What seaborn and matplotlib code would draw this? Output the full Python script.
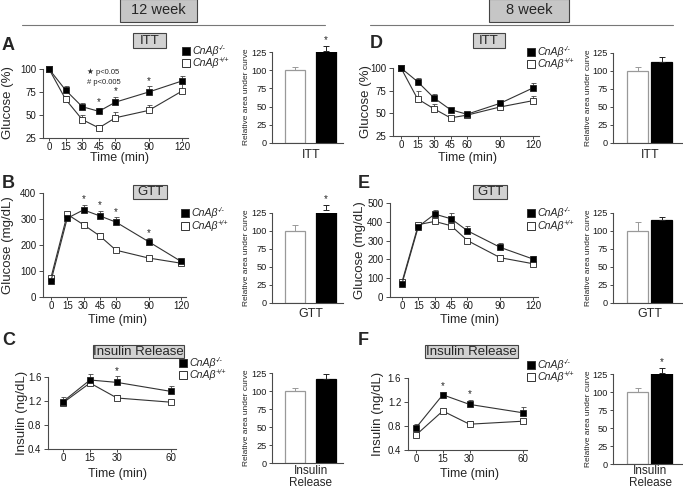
import numpy as np
import pandas as pd
import matplotlib
matplotlib.use("Agg")
import matplotlib.pyplot as plt
import seaborn as sns
from matplotlib.patches import Rectangle
from matplotlib.lines import Line2D
from matplotlib.text import Annotation

sns.set_style("ticks")
plt.rcParams["font.family"] = ["Liberation Sans", "DejaVu Sans"]

W, H = 683, 490

# ---------------- data ----------------
gtt_time = [0, 15, 30, 45, 60, 90, 120]
ins_time = [0, 15, 30, 60]
bar_groups = ["WT", "KO"]
gene_name = "CnAβ"
ko_sup = "-/-"
wt_sup = "+/+"

a_ko = [100, 77, 59, 54, 64, 75, 87]
a_ko_err = [0, 4, 4, 4, 6, 6, 5]
a_wt = [100, 67, 45, 36, 47, 55, 76]
a_wt_err = [0, 4, 5, 3, 6, 6, 8]
a_stars = [45, 60, 90]
a_auc = [100, 127]
a_auc_err = [5, 6]

b_ko = [62, 303, 335, 312, 288, 213, 137]
b_ko_err = [0, 8, 20, 20, 18, 13, 8]
b_wt = [75, 318, 278, 235, 180, 150, 130]
b_wt_err = [0, 8, 12, 10, 5, 6, 4]
b_stars = [30, 45, 60, 90]
b_auc = [100, 129]
b_auc_err = [9, 7]

c_ko = [1.19, 1.55, 1.51, 1.36]
c_ko_err = [0.08, 0.10, 0.10, 0.09]
c_wt = [1.17, 1.50, 1.25, 1.18]
c_wt_err = [0.04, 0.04, 0.05, 0.04]
c_stars = [30]
c_auc = [100, 116]
c_auc_err = [4, 7]

d_ko = [100, 85, 67, 54, 49, 61, 78]
d_ko_err = [0, 4, 4, 2, 2, 3, 6]
d_wt = [100, 66, 55, 45, 48, 57, 64]
d_wt_err = [0, 9, 5, 2, 2, 2, 5]
d_stars = []
d_auc = [100, 112]
d_auc_err = [5, 8]

e_ko = [71, 375, 441, 416, 352, 264, 202]
e_ko_err = [0, 20, 20, 30, 25, 25, 18]
e_wt = [80, 385, 402, 379, 300, 209, 177]
e_wt_err = [8, 10, 10, 10, 15, 12, 5]
e_stars = []
e_auc = [100, 115]
e_auc_err = [12, 5]

f_ko = [0.77, 1.32, 1.16, 1.02]
f_ko_err = [0.07, 0.05, 0.08, 0.10]
f_wt = [0.65, 1.05, 0.83, 0.88]
f_wt_err = [0.04, 0.04, 0.05, 0.04]
f_stars = [15, 30]
f_auc = [100, 127]
f_auc_err = [6, 6]

SP = "#4a4a4a"

fig = plt.figure(figsize=(W / 100, H / 100), dpi=100)


def px_axes(xmap, xlim, ymap, ylim):
    (xp0, xv0), (xp1, xv1) = xmap
    (yp0, yv0), (yp1, yv1) = ymap
    sx = (xp1 - xp0) / (xv1 - xv0)
    sy = (yp1 - yp0) / (yv1 - yv0)
    left = xp0 + (xlim[0] - xv0) * sx
    right = xp0 + (xlim[1] - xv0) * sx
    bottom = yp0 + (ylim[0] - yv0) * sy
    top = yp0 + (ylim[1] - yv0) * sy
    ax = fig.add_axes([left / W, 1 - bottom / H, (right - left) / W, (bottom - top) / H])
    ax.patch.set_alpha(0)
    return ax


def style(ax, labelsize=7):
    sns.despine(ax=ax)
    for s in ("left", "bottom"):
        ax.spines[s].set_color(SP)
        ax.spines[s].set_linewidth(0.8)
    ax.tick_params(colors=SP, labelcolor="#1a1a1a", width=0.7, labelsize=labelsize,
                   length=3, pad=1.8)


def set_labels(ax, xlab, xlab_xy, ylab, ylab_xy, xfs, yfs, xva="center", **xkw):
    ax.set_xlabel(xlab, fontsize=xfs, **xkw)
    ax.xaxis.set_label_coords(xlab_xy[0] / W, 1 - xlab_xy[1] / H, transform=fig.transFigure)
    ax.xaxis.label.set_va(xva)
    ax.set_ylabel(ylab, fontsize=yfs)
    ax.yaxis.set_label_coords(ylab_xy[0] / W, 1 - ylab_xy[1] / H, transform=fig.transFigure)
    ax.yaxis.label.set_va("center")


def line_panel(xmap, xlim, ymap, ylim, t, ko, ko_e, wt, wt_e, stars, yticks,
               ylab, ylab_xy, xlab_xy):
    ax = px_axes(xmap, xlim, ymap, ylim)
    n = len(t)
    for vals, errs, fc in ((wt, wt_e, "white"), (ko, ko_e, "black")):
        ax.errorbar(t, vals, yerr=[np.zeros(n), errs], fmt="none", ecolor="#444",
                    elinewidth=0.6, capsize=1.8, capthick=0.6, zorder=2, clip_on=False)
        sns.lineplot(x=t, y=vals, ax=ax, color="#333333", lw=0.8, marker="s",
                     markersize=4.3, markerfacecolor=fc, markeredgecolor="#222222",
                     markeredgewidth=0.6, zorder=3, clip_on=False)
    for s in stars:
        i = t.index(s)
        ax.annotate("*", (s, ko[i] + ko_e[i]), xytext=(0, 0.3), textcoords="offset points",
                    ha="center", va="bottom", fontsize=7, annotation_clip=False)
    ax.set_xlim(xlim)
    ax.set_ylim(ylim)
    ax.set_xticks(t)
    ax.set_yticks(yticks)
    style(ax)
    ax.tick_params(axis="x", length=2, pad=1.0)
    set_labels(ax, "Time (min)", xlab_xy, ylab, ylab_xy, 9, 9.5)
    return ax


def bar_panel(xmap, xlim, ymap, width, vals, errs, star, label, ylab_xy, xlab_xy,
              xva="center"):
    ax = px_axes(xmap, xlim, ymap, (0, 125))
    sns.barplot(x=bar_groups, y=vals, hue=bar_groups,
                palette={"WT": "white", "KO": "black"}, width=width,
                legend=False, ax=ax, linewidth=0.9, errorbar=None)
    for p in ax.patches:
        fc = p.get_facecolor()
        p.set_edgecolor("#999999" if fc[0] > 0.5 else "black")
    ax.errorbar([0], [vals[0]], yerr=[[0], [errs[0]]], fmt="none", ecolor="#999999",
                elinewidth=0.7, capsize=2.2, capthick=0.7, clip_on=False)
    ax.errorbar([1], [vals[1]], yerr=[[0], [errs[1]]], fmt="none", ecolor="#222222",
                elinewidth=0.7, capsize=2.2, capthick=0.7, clip_on=False)
    if star:
        ax.annotate("*", (1, vals[1] + errs[1]), xytext=(0, 0.5), textcoords="offset points",
                    ha="center", va="bottom", fontsize=7, annotation_clip=False)
    ax.set_xlim(xlim)
    ax.set_ylim(0, 125)
    ax.set_yticks([0, 25, 50, 75, 100, 125])
    ax.set_xticks([])
    style(ax, labelsize=6.6)
    ax.tick_params(axis="y", length=2.5, pad=1.5)
    fs = 9 if "\n" not in label else 8.5
    set_labels(ax, label, xlab_xy, "Relative area under curve", ylab_xy, fs, 6,
               xva=xva, linespacing=1.0)
    return ax


def box(x0, y0, x1, y1, text, fs, fc):
    fig.add_artist(Rectangle((x0 / W, 1 - y1 / H), (x1 - x0) / W, (y1 - y0) / H,
                             transform=fig.transFigure, fc=fc, ec="#444444", lw=0.8))
    fig.text((x0 + x1) / 2 / W, 1 - (y0 + y1) / 2 / H, text, ha="center", va="center",
             fontsize=fs)


def legend(x, y0, dy):
    for i, (fc, sup) in enumerate((("black", ko_sup), ("white", wt_sup))):
        yy = y0 + i * dy
        fig.add_artist(Line2D([x / W], [1 - yy / H], marker="s", ms=5.5, mfc=fc, mec="#333333",
                              mew=0.7, ls="none", transform=fig.transFigure))
        t = fig.text((x + 6) / W, 1 - yy / H, gene_name, ha="left", va="center",
                     fontsize=7.6, style="italic")
        fig.add_artist(Annotation(sup, xy=(1.0, 0.72), xycoords=t, ha="left", va="center",
                                  fontsize=5.2, style="italic"))


def letter(x, y, s):
    fig.text(x / W, 1 - y / H, s, ha="left", va="baseline", fontsize=13, fontweight="bold")


# ---------------- headers ----------------
box(120, -1, 197, 22, "12 week", 10.5, "#c6c6c6")
box(489, -1, 569, 22, "8 week", 10.5, "#c6c6c6")
fig.add_artist(Line2D([22 / W, 325 / W], [1 - 25 / H] * 2, color="#777777", lw=0.8,
                      transform=fig.transFigure))
fig.add_artist(Line2D([370 / W, 673 / W], [1 - 25 / H] * 2, color="#777777", lw=0.8,
                      transform=fig.transFigure))

# ---------------- line panels ----------------
line_panel(((49, 0), (182, 120)), (-5.4, 125.5), ((138, 25), (69, 100)), (25, 100),
           gtt_time, a_ko, a_ko_err, a_wt, a_wt_err, a_stars, [25, 50, 75, 100],
           "Glucose (%)", (8, 103), (119, 158.5))
line_panel(((51, 0), (181, 120)), (-7.4, 125), ((297, 0), (193, 400)), (0, 400),
           gtt_time, b_ko, b_ko_err, b_wt, b_wt_err, b_stars, [0, 100, 200, 300, 400],
           "Glucose (mg/dL)", (8, 245), (118, 319.5))
line_panel(((63, 0), (171, 60)), (-8.3, 62.5), ((449, 0.4), (377, 1.6)), (0.4, 1.6),
           ins_time, c_ko, c_ko_err, c_wt, c_wt_err, c_stars, [0.4, 0.8, 1.2, 1.6],
           "Insulin (ng/dL)", (22, 413), (118, 473.5))
line_panel(((401, 0), (533, 120)), (-7.3, 125), ((136, 25), (68, 100)), (25, 100),
           gtt_time, d_ko, d_ko_err, d_wt, d_wt_err, d_stars, [25, 50, 75, 100],
           "Glucose (%)", (366, 102), (468, 157.5))
line_panel(((402, 0), (533, 120)), (-11, 125), ((297, 0), (203, 500)), (0, 500),
           gtt_time, e_ko, e_ko_err, e_wt, e_wt_err, e_stars, [0, 100, 200, 300, 400, 500],
           "Glucose (mg/dL)", (360, 250), (470, 319.5))
line_panel(((416, 0), (523, 60)), (-4.5, 62.5), ((450, 0.4), (378, 1.6)), (0.4, 1.6),
           ins_time, f_ko, f_ko_err, f_wt, f_wt_err, f_stars, [0.4, 0.8, 1.2, 1.6],
           "Insulin (ng/dL)", (378, 414), (470, 474))

# ---------------- bar panels ----------------
LX = ((295, 0), (326, 1)); LXL = (-0.742, 1.548); LW = 0.645
RX = ((637.5, 0), (661.5, 1)); RXL = (-1.02, 1.896); RW = 0.875
bar_panel(LX, LXL, ((143, 0), (52, 125)), LW, a_auc, a_auc_err, True, "ITT", (247, 97), (311, 155))
bar_panel(LX, LXL, ((303, 0), (213, 125)), LW, b_auc, b_auc_err, True, "GTT", (247, 258), (311, 314))
bar_panel(LX, LXL, ((463, 0), (373, 125)), LW, c_auc, c_auc_err, False, "Insulin\nRelease",
          (247, 418), (311, 489), xva="bottom")
bar_panel(RX, RXL, ((143, 0), (53, 125)), RW, d_auc, d_auc_err, False, "ITT", (588, 98), (650, 155))
bar_panel(RX, RXL, ((303, 0), (213, 125)), RW, e_auc, e_auc_err, False, "GTT", (588, 258), (650, 314))
bar_panel(RX, RXL, ((464, 0), (374, 125)), RW, f_auc, f_auc_err, True, "Insulin\nRelease",
          (588, 419), (650, 489), xva="bottom")

# ---------------- titles, legends, letters ----------------
box(133, 33, 166, 48, "ITT", 9.5, "#d2d2d2")
box(133, 185, 167, 199, "GTT", 9.5, "#d2d2d2")
box(93, 345, 184, 358, "Insulin Release", 9.5, "#d2d2d2")
box(473, 33, 505, 48, "ITT", 9.5, "#d2d2d2")
box(473, 185, 507, 199, "GTT", 9.5, "#d2d2d2")
box(425, 345, 518, 358, "Insulin Release", 9.5, "#d2d2d2")

legend(186, 51, 12)
legend(185, 213, 12.5)
legend(183, 363, 12)
legend(531, 52, 12)
legend(531, 213, 12.5)
legend(531, 365, 12)

fig.text(87 / W, 1 - 72 / H, "★ p<0.05", ha="left", va="center", fontsize=5.5)
fig.text(87 / W, 1 - 82 / H, "# p<0.005", ha="left", va="center", fontsize=5.5)

letter(2, 50, "A")
letter(2, 188, "B")
letter(2, 345, "C")
letter(370, 48, "D")
letter(358, 188, "E")
letter(358, 345, "F")

fig.savefig("out.png", dpi=100)
